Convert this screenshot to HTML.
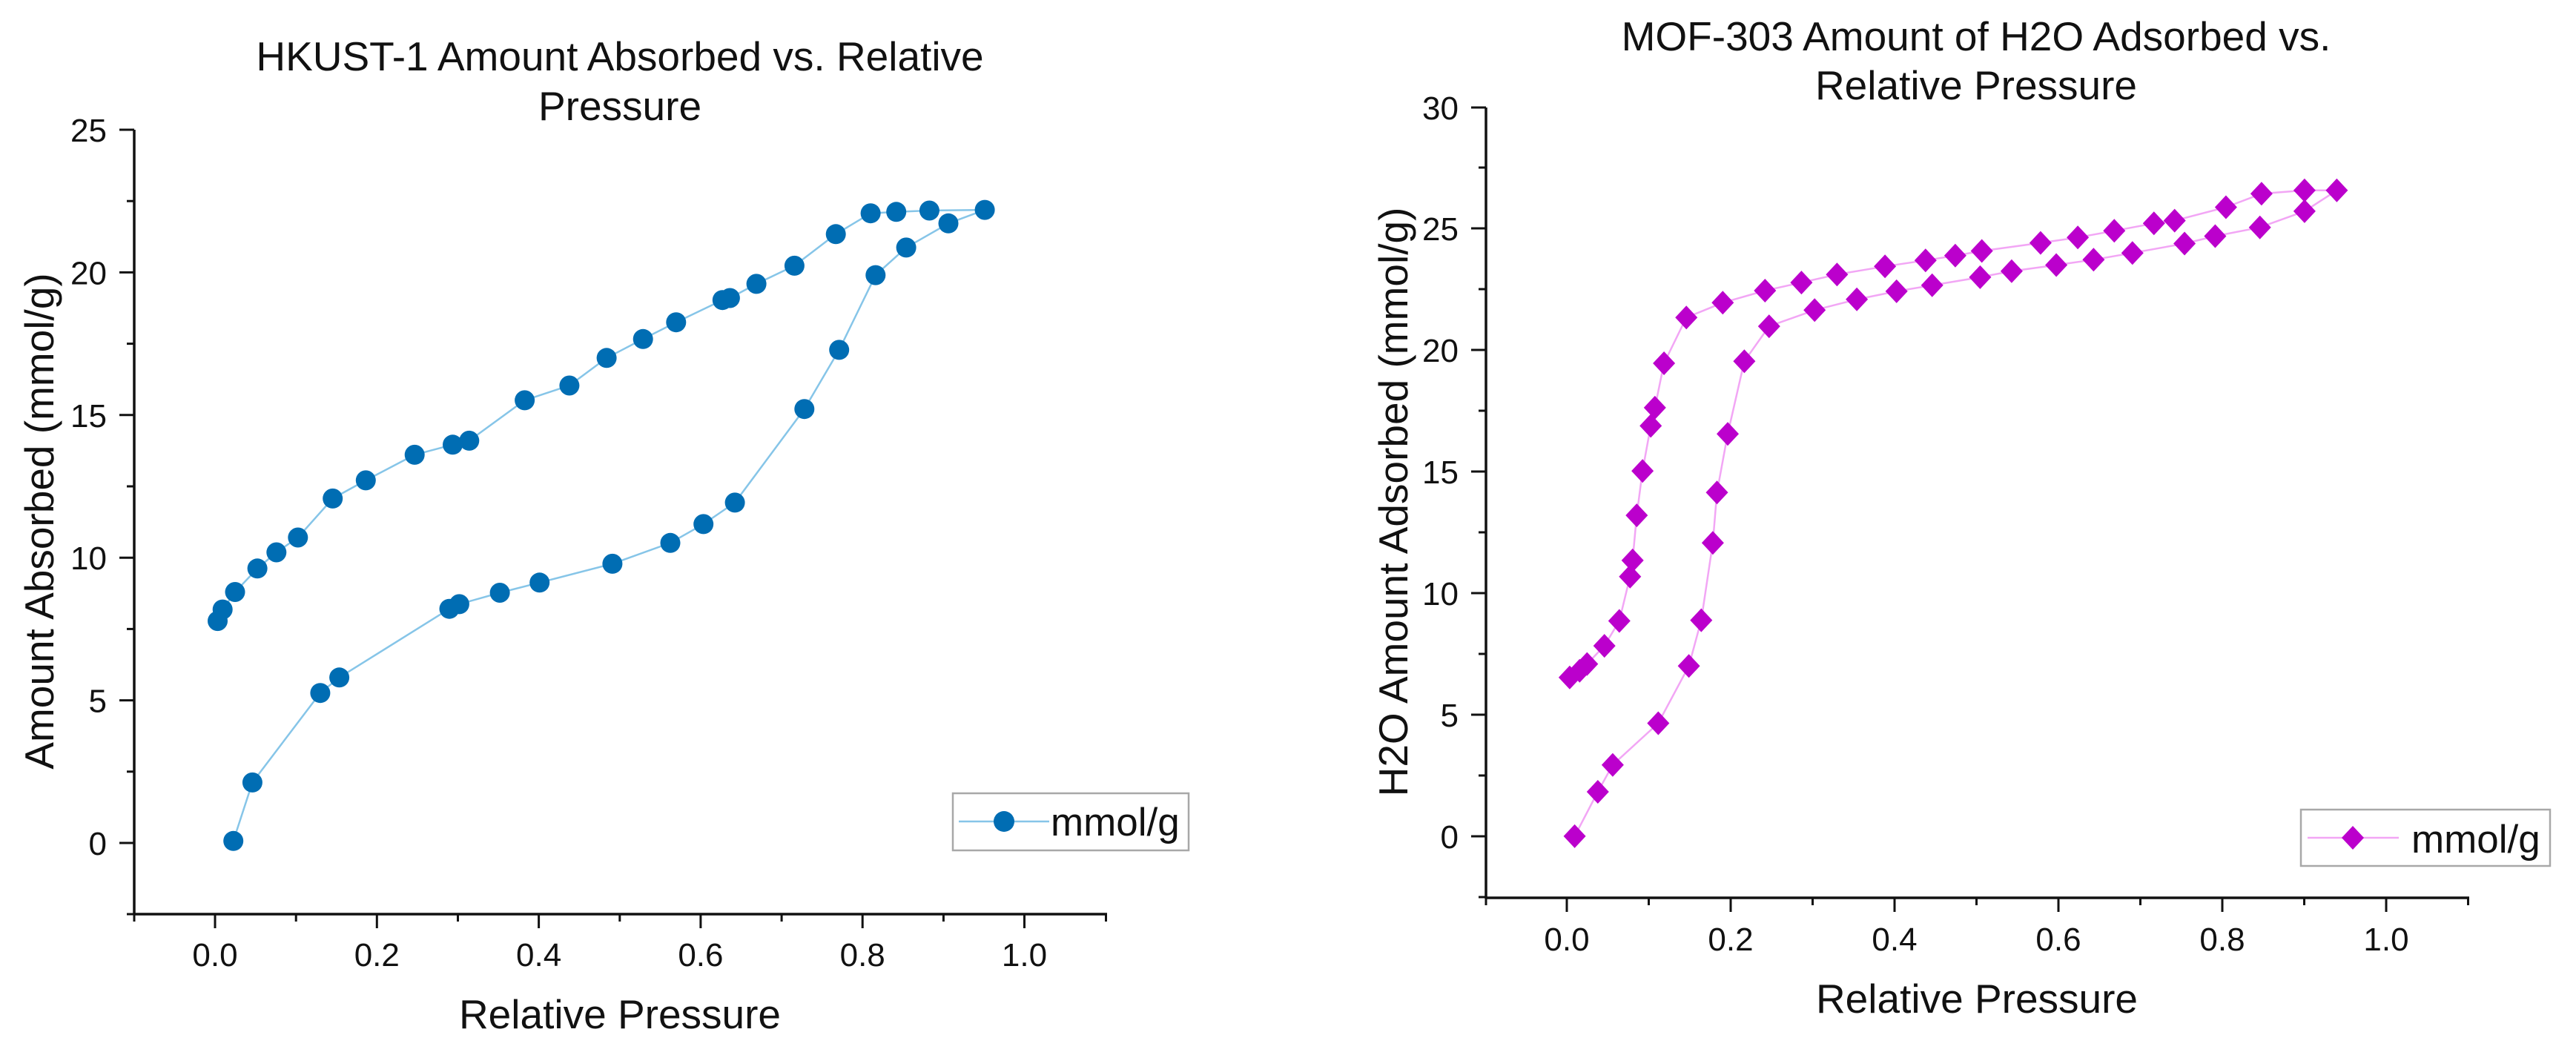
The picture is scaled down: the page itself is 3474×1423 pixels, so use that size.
<!DOCTYPE html>
<html>
<head>
<meta charset="utf-8">
<style>
html,body{margin:0;padding:0;background:#fff;}
svg{display:block;}
text{font-family:"Liberation Sans",Arial,sans-serif;fill:#111;}
</style>
</head>
<body>
<svg width="3474" height="1423" viewBox="0 0 3474 1423" xmlns="http://www.w3.org/2000/svg">
<rect width="3474" height="1423" fill="#fff"/>

<!-- ============ LEFT CHART ============ -->
<text x="836" y="95" font-size="55" text-anchor="middle">HKUST-1 Amount Absorbed vs. Relative</text>
<text x="836" y="162" font-size="55" text-anchor="middle">Pressure</text>

<!-- axes -->
<g stroke="#111" stroke-width="3.5" fill="none">
  <line x1="181" y1="175" x2="181" y2="1234"/>
  <line x1="180" y1="1233" x2="1493" y2="1233"/>
</g>
<g stroke="#111" stroke-width="3" fill="none">
  <!-- y major -->
  <line x1="161" y1="1137" x2="181" y2="1137"/>
  <line x1="161" y1="944.6" x2="181" y2="944.6"/>
  <line x1="161" y1="752.2" x2="181" y2="752.2"/>
  <line x1="161" y1="559.8" x2="181" y2="559.8"/>
  <line x1="161" y1="367.4" x2="181" y2="367.4"/>
  <line x1="161" y1="175" x2="181" y2="175"/>
  <!-- y minor -->
  <line x1="171" y1="1233" x2="181" y2="1233"/>
  <line x1="171" y1="1040.8" x2="181" y2="1040.8"/>
  <line x1="171" y1="848.4" x2="181" y2="848.4"/>
  <line x1="171" y1="656" x2="181" y2="656"/>
  <line x1="171" y1="463.6" x2="181" y2="463.6"/>
  <line x1="171" y1="271.2" x2="181" y2="271.2"/>
  <!-- x major -->
  <line x1="290" y1="1233" x2="290" y2="1252"/>
  <line x1="508.3" y1="1233" x2="508.3" y2="1252"/>
  <line x1="726.6" y1="1233" x2="726.6" y2="1252"/>
  <line x1="944.9" y1="1233" x2="944.9" y2="1252"/>
  <line x1="1163.2" y1="1233" x2="1163.2" y2="1252"/>
  <line x1="1381.5" y1="1233" x2="1381.5" y2="1252"/>
  <!-- x minor -->
  <line x1="181" y1="1233" x2="181" y2="1243"/>
  <line x1="399.2" y1="1233" x2="399.2" y2="1243"/>
  <line x1="617.5" y1="1233" x2="617.5" y2="1243"/>
  <line x1="835.8" y1="1233" x2="835.8" y2="1243"/>
  <line x1="1054.1" y1="1233" x2="1054.1" y2="1243"/>
  <line x1="1272.4" y1="1233" x2="1272.4" y2="1243"/>
  <line x1="1491.5" y1="1233" x2="1491.5" y2="1243"/>
</g>
<g font-size="44" text-anchor="end">
  <text x="144" y="1153">0</text>
  <text x="144" y="960.6">5</text>
  <text x="144" y="768.2">10</text>
  <text x="144" y="575.8">15</text>
  <text x="144" y="383.4">20</text>
  <text x="144" y="191">25</text>
</g>
<g font-size="44" text-anchor="middle">
  <text x="290" y="1303">0.0</text>
  <text x="508.3" y="1303">0.2</text>
  <text x="726.6" y="1303">0.4</text>
  <text x="944.9" y="1303">0.6</text>
  <text x="1163.2" y="1303">0.8</text>
  <text x="1381.5" y="1303">1.0</text>
</g>
<text x="836" y="1387" font-size="55" text-anchor="middle">Relative Pressure</text>
<text transform="translate(72,703) rotate(-90)" font-size="55" text-anchor="middle">Amount Absorbed (mmol/g)</text>

<polyline fill="none" stroke="#86C5E8" stroke-width="2.5" stroke-linejoin="round" points="
314.7,1134.3 340.4,1055.4 431.9,934.7 457.6,913.8 606.0,821.2 619.4,814.9 674.1,799.5 727.7,785.8 825.9,760.4 904.0,732.3 948.7,706.9 991.1,677.9 1084.8,551.7 1131.7,471.9 1180.8,371.1 1222.1,333.9 1279.0,301.3 1328.1,283.1
1253.4,284.0 1208.7,285.8 1174.1,287.7 1127.2,315.8 1071.4,358.4 1020.1,382.9 984.4,402.0 974.3,404.7 911.8,434.7 867.2,457.3 818.1,482.8 767.9,520.0 707.6,539.9 632.8,594.4 610.5,599.8 559.2,613.4 493.3,647.9 448.7,672.4 401.8,725.0 372.8,745.0 347.1,766.8 317.0,798.5 300.2,822.1 293.5,837.6"/>
<g fill="#006DB3">
<circle cx="314.7" cy="1134.3" r="13.5"/><circle cx="340.4" cy="1055.4" r="13.5"/><circle cx="431.9" cy="934.7" r="13.5"/><circle cx="457.6" cy="913.8" r="13.5"/><circle cx="606.0" cy="821.2" r="13.5"/><circle cx="619.4" cy="814.9" r="13.5"/><circle cx="674.1" cy="799.5" r="13.5"/><circle cx="727.7" cy="785.8" r="13.5"/><circle cx="825.9" cy="760.4" r="13.5"/><circle cx="904.0" cy="732.3" r="13.5"/><circle cx="948.7" cy="706.9" r="13.5"/><circle cx="991.1" cy="677.9" r="13.5"/><circle cx="1084.8" cy="551.7" r="13.5"/><circle cx="1131.7" cy="471.9" r="13.5"/><circle cx="1180.8" cy="371.1" r="13.5"/><circle cx="1222.1" cy="333.9" r="13.5"/><circle cx="1279.0" cy="301.3" r="13.5"/><circle cx="1328.1" cy="283.1" r="13.5"/>
<circle cx="1253.4" cy="284.0" r="13.5"/><circle cx="1208.7" cy="285.8" r="13.5"/><circle cx="1174.1" cy="287.7" r="13.5"/><circle cx="1127.2" cy="315.8" r="13.5"/><circle cx="1071.4" cy="358.4" r="13.5"/><circle cx="1020.1" cy="382.9" r="13.5"/><circle cx="984.4" cy="402.0" r="13.5"/><circle cx="974.3" cy="404.7" r="13.5"/><circle cx="911.8" cy="434.7" r="13.5"/><circle cx="867.2" cy="457.3" r="13.5"/><circle cx="818.1" cy="482.8" r="13.5"/><circle cx="767.9" cy="520.0" r="13.5"/><circle cx="707.6" cy="539.9" r="13.5"/><circle cx="632.8" cy="594.4" r="13.5"/><circle cx="610.5" cy="599.8" r="13.5"/><circle cx="559.2" cy="613.4" r="13.5"/><circle cx="493.3" cy="647.9" r="13.5"/><circle cx="448.7" cy="672.4" r="13.5"/><circle cx="401.8" cy="725.0" r="13.5"/><circle cx="372.8" cy="745.0" r="13.5"/><circle cx="347.1" cy="766.8" r="13.5"/><circle cx="317.0" cy="798.5" r="13.5"/><circle cx="300.2" cy="822.1" r="13.5"/><circle cx="293.5" cy="837.6" r="13.5"/>
</g>

<!-- legend left -->
<rect x="1285" y="1070" width="318" height="77" fill="#fff" stroke="#a8a8a8" stroke-width="2.5"/>
<line x1="1293" y1="1108" x2="1415" y2="1108" stroke="#86C5E8" stroke-width="2.5"/>
<circle cx="1354" cy="1108" r="14" fill="#006DB3"/>
<text x="1417" y="1127" font-size="53">mmol/g</text>

<!-- ============ RIGHT CHART ============ -->
<text x="2665" y="68" font-size="55" text-anchor="middle">MOF-303 Amount of H2O Adsorbed vs.</text>
<text x="2665" y="134" font-size="55" text-anchor="middle">Relative Pressure</text>

<g stroke="#111" stroke-width="3.5" fill="none">
  <line x1="2004" y1="145" x2="2004" y2="1212"/>
  <line x1="2003" y1="1211" x2="3330" y2="1211"/>
</g>
<g stroke="#111" stroke-width="3" fill="none">
  <!-- y major -->
  <line x1="1984" y1="1128" x2="2004" y2="1128"/>
  <line x1="1984" y1="964" x2="2004" y2="964"/>
  <line x1="1984" y1="800" x2="2004" y2="800"/>
  <line x1="1984" y1="636" x2="2004" y2="636"/>
  <line x1="1984" y1="472" x2="2004" y2="472"/>
  <line x1="1984" y1="308" x2="2004" y2="308"/>
  <line x1="1984" y1="145" x2="2004" y2="145"/>
  <!-- y minor -->
  <line x1="1994" y1="1210" x2="2004" y2="1210"/>
  <line x1="1994" y1="1046" x2="2004" y2="1046"/>
  <line x1="1994" y1="882" x2="2004" y2="882"/>
  <line x1="1994" y1="718" x2="2004" y2="718"/>
  <line x1="1994" y1="554" x2="2004" y2="554"/>
  <line x1="1994" y1="390" x2="2004" y2="390"/>
  <line x1="1994" y1="226" x2="2004" y2="226"/>
  <!-- x major -->
  <line x1="2113" y1="1211" x2="2113" y2="1230"/>
  <line x1="2334" y1="1211" x2="2334" y2="1230"/>
  <line x1="2555" y1="1211" x2="2555" y2="1230"/>
  <line x1="2776" y1="1211" x2="2776" y2="1230"/>
  <line x1="2997" y1="1211" x2="2997" y2="1230"/>
  <line x1="3218" y1="1211" x2="3218" y2="1230"/>
  <!-- x minor -->
  <line x1="2004" y1="1211" x2="2004" y2="1221"/>
  <line x1="2223.5" y1="1211" x2="2223.5" y2="1221"/>
  <line x1="2444.5" y1="1211" x2="2444.5" y2="1221"/>
  <line x1="2665.5" y1="1211" x2="2665.5" y2="1221"/>
  <line x1="2886.5" y1="1211" x2="2886.5" y2="1221"/>
  <line x1="3107.5" y1="1211" x2="3107.5" y2="1221"/>
  <line x1="3328.5" y1="1211" x2="3328.5" y2="1221"/>
</g>
<g font-size="44" text-anchor="end">
  <text x="1967" y="1144">0</text>
  <text x="1967" y="980">5</text>
  <text x="1967" y="816">10</text>
  <text x="1967" y="652">15</text>
  <text x="1967" y="488">20</text>
  <text x="1967" y="324">25</text>
  <text x="1967" y="161">30</text>
</g>
<g font-size="44" text-anchor="middle">
  <text x="2113" y="1282">0.0</text>
  <text x="2334" y="1282">0.2</text>
  <text x="2555" y="1282">0.4</text>
  <text x="2776" y="1282">0.6</text>
  <text x="2997" y="1282">0.8</text>
  <text x="3218" y="1282">1.0</text>
</g>
<text x="2666" y="1366" font-size="55" text-anchor="middle">Relative Pressure</text>
<text transform="translate(1898,677) rotate(-90)" font-size="55" text-anchor="middle">H2O Amount Adsorbed (mmol/g)</text>

<polyline fill="none" stroke="#F2A6F5" stroke-width="2.5" stroke-linejoin="round" points="
2123.6,1127.9 2154.8,1068.0 2174.9,1031.7 2236.3,975.5 2277.6,898.3 2294.3,836.6 2309.9,732.3 2315.5,664.2 2330.0,585.3 2352.4,487.3 2385.8,440.1 2447.2,418.3 2504.1,403.8 2557.7,392.9 2605.7,384.8 2670.4,373.9 2712.9,365.7 2773.1,357.5 2823.4,350.3 2875.8,341.2 2946.1,328.5 2987.4,318.5 3047.7,306.7 3107.9,284.9 3151.4,256.8
3107.9,256.8 3049.9,261.3 3001.9,279.5 2932.7,297.6 2904.8,301.3 2851.3,311.3 2802.1,320.3 2751.9,327.6 2672.7,338.5 2636.9,344.8 2596.8,351.2 2542.1,359.3 2477.4,370.2 2429.4,381.1 2380.3,392.0 2323.3,408.3 2274.2,428.3 2244.1,490.0 2231.8,549.9 2226.2,574.4 2215.1,635.2 2207.3,695.1 2201.7,755.9 2198.3,777.7 2183.8,837.5 2163.7,871.1 2140.3,895.6 2130.3,904.7 2116.9,913.8"/>
<defs>
  <path id="dm" d="M0,-16 L15,0 L0,16 L-15,0 Z" fill="#BB00CC"/>
</defs>
<g>
<use href="#dm" x="2123.6" y="1127.9"/><use href="#dm" x="2154.8" y="1068.0"/><use href="#dm" x="2174.9" y="1031.7"/><use href="#dm" x="2236.3" y="975.5"/><use href="#dm" x="2277.6" y="898.3"/><use href="#dm" x="2294.3" y="836.6"/><use href="#dm" x="2309.9" y="732.3"/><use href="#dm" x="2315.5" y="664.2"/><use href="#dm" x="2330.0" y="585.3"/><use href="#dm" x="2352.4" y="487.3"/><use href="#dm" x="2385.8" y="440.1"/><use href="#dm" x="2447.2" y="418.3"/><use href="#dm" x="2504.1" y="403.8"/><use href="#dm" x="2557.7" y="392.9"/><use href="#dm" x="2605.7" y="384.8"/><use href="#dm" x="2670.4" y="373.9"/><use href="#dm" x="2712.9" y="365.7"/><use href="#dm" x="2773.1" y="357.5"/><use href="#dm" x="2823.4" y="350.3"/><use href="#dm" x="2875.8" y="341.2"/><use href="#dm" x="2946.1" y="328.5"/><use href="#dm" x="2987.4" y="318.5"/><use href="#dm" x="3047.7" y="306.7"/><use href="#dm" x="3107.9" y="284.9"/><use href="#dm" x="3151.4" y="256.8"/>
<use href="#dm" x="3107.9" y="256.8"/><use href="#dm" x="3049.9" y="261.3"/><use href="#dm" x="3001.9" y="279.5"/><use href="#dm" x="2932.7" y="297.6"/><use href="#dm" x="2904.8" y="301.3"/><use href="#dm" x="2851.3" y="311.3"/><use href="#dm" x="2802.1" y="320.3"/><use href="#dm" x="2751.9" y="327.6"/><use href="#dm" x="2672.7" y="338.5"/><use href="#dm" x="2636.9" y="344.8"/><use href="#dm" x="2596.8" y="351.2"/><use href="#dm" x="2542.1" y="359.3"/><use href="#dm" x="2477.4" y="370.2"/><use href="#dm" x="2429.4" y="381.1"/><use href="#dm" x="2380.3" y="392.0"/><use href="#dm" x="2323.3" y="408.3"/><use href="#dm" x="2274.2" y="428.3"/><use href="#dm" x="2244.1" y="490.0"/><use href="#dm" x="2231.8" y="549.9"/><use href="#dm" x="2226.2" y="574.4"/><use href="#dm" x="2215.1" y="635.2"/><use href="#dm" x="2207.3" y="695.1"/><use href="#dm" x="2201.7" y="755.9"/><use href="#dm" x="2198.3" y="777.7"/><use href="#dm" x="2183.8" y="837.5"/><use href="#dm" x="2163.7" y="871.1"/><use href="#dm" x="2140.3" y="895.6"/><use href="#dm" x="2130.3" y="904.7"/><use href="#dm" x="2116.9" y="913.8"/>
</g>

<!-- legend right -->
<rect x="3103" y="1092" width="336" height="76" fill="#fff" stroke="#a8a8a8" stroke-width="2.5"/>
<line x1="3112" y1="1130" x2="3235" y2="1130" stroke="#F2A6F5" stroke-width="2.5"/>
<use href="#dm" x="3173" y="1130"/>
<text x="3252" y="1150" font-size="53">mmol/g</text>
</svg>
</body>
</html>
